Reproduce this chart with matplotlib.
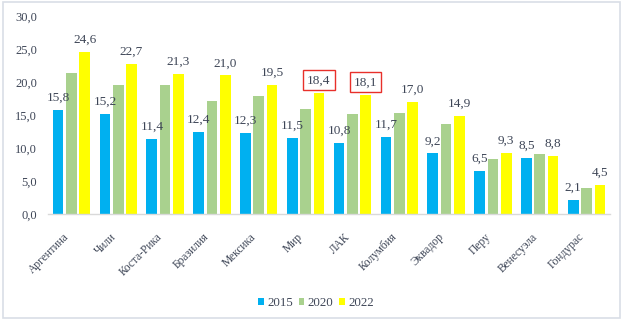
import numpy as np
import matplotlib
matplotlib.use("Agg")
import matplotlib.pyplot as plt
from matplotlib.patches import Rectangle

countries = ["Аргентина", "Чили", "Коста-Рика", "Бразилия", "Мексика", "Мир",
             "ЛАК", "Колумбия", "Эквадор", "Перу", "Венесуэла", "Гондурас"]
years = ["2015", "2020", "2022"]
v2015 = [15.8, 15.2, 11.4, 12.4, 12.3, 11.5, 10.8, 11.7, 9.2, 6.5, 8.5, 2.1]
v2020 = [21.4, 19.6, 19.5, 17.2, 17.9, 15.9, 15.1, 15.3, 13.6, 8.4, 9.1, 4.0]
v2022 = [24.6, 22.7, 21.3, 21.0, 19.5, 18.4, 18.1, 17.0, 14.9, 9.3, 8.8, 4.5]
boxed = ["Мир", "ЛАК"]  # 2022 labels framed in red

colors = ["#00B0F0", "#A9D18E", "#FFFF00"]
text_col = "#3E4657"

plt.rcParams["font.family"] = ["Liberation Serif", "DejaVu Serif"]

fig = plt.figure(figsize=(6.25, 3.21), dpi=100)
ax = fig.add_axes([48 / 625, 1 - 214.3 / 321, 562 / 625, (214.3 - 16) / 321])

x = np.arange(len(countries))
w = 0.228
step = 0.284
series = [v2015, v2020, v2022]
bars = []
for i, (vals, c, yr) in enumerate(zip(series, colors, years)):
    b = ax.bar(x + (i - 1) * step, vals, width=w, color=c, label=yr, zorder=2)
    bars.append(b)

# labels on 2015 and 2022 bars
for i in (0, 2):
    for j, rect in enumerate(bars[i]):
        val = series[i][j]
        txt = f"{val:.1f}".replace(".", ",")
        kw = {}
        if i == 2 and countries[j] in boxed:
            kw["bbox"] = dict(boxstyle="square,pad=0.3", fc="white", ec="#E8302A", lw=1.0)
        ax.annotate(txt, (rect.get_x() + rect.get_width() / 2, val),
                    xytext=(0, 4.5), textcoords="offset points",
                    ha="center", va="bottom", fontsize=9.5, color=text_col, **kw)

ax.set_xlim(-0.5, len(countries) - 0.5)
ax.set_ylim(0, 30)
ax.set_yticks(np.arange(0, 31, 5))
ax.set_yticklabels([f"{t:.1f}".replace(".", ",") for t in np.arange(0, 31, 5)])
ax.set_xticks(x)
ax.set_xticklabels(countries, rotation=45, ha="right", va="top")
ax.tick_params(axis="x", length=0, pad=12, labelsize=8.3, labelcolor=text_col)
ax.tick_params(axis="y", length=0, pad=8, labelsize=9, labelcolor=text_col)

for s in ["top", "right", "left"]:
    ax.spines[s].set_visible(False)
ax.spines["bottom"].set_color("#D9D9D9")
ax.spines["bottom"].set_linewidth(1)

fig.legend(loc="center", bbox_to_anchor=(316 / 625, 1 - 303 / 321), ncol=3,
           frameon=False, fontsize=9.3, handlelength=0.45, handleheight=0.45,
           handletextpad=0.25, columnspacing=0.45, labelcolor=text_col)

# light frame around the chart
fig.patches.append(Rectangle((0.004, 0.008), 0.988, 0.985, transform=fig.transFigure,
                             fill=False, ec="#D9DEE6", lw=1.2))

fig.savefig("out.png", dpi=100)
